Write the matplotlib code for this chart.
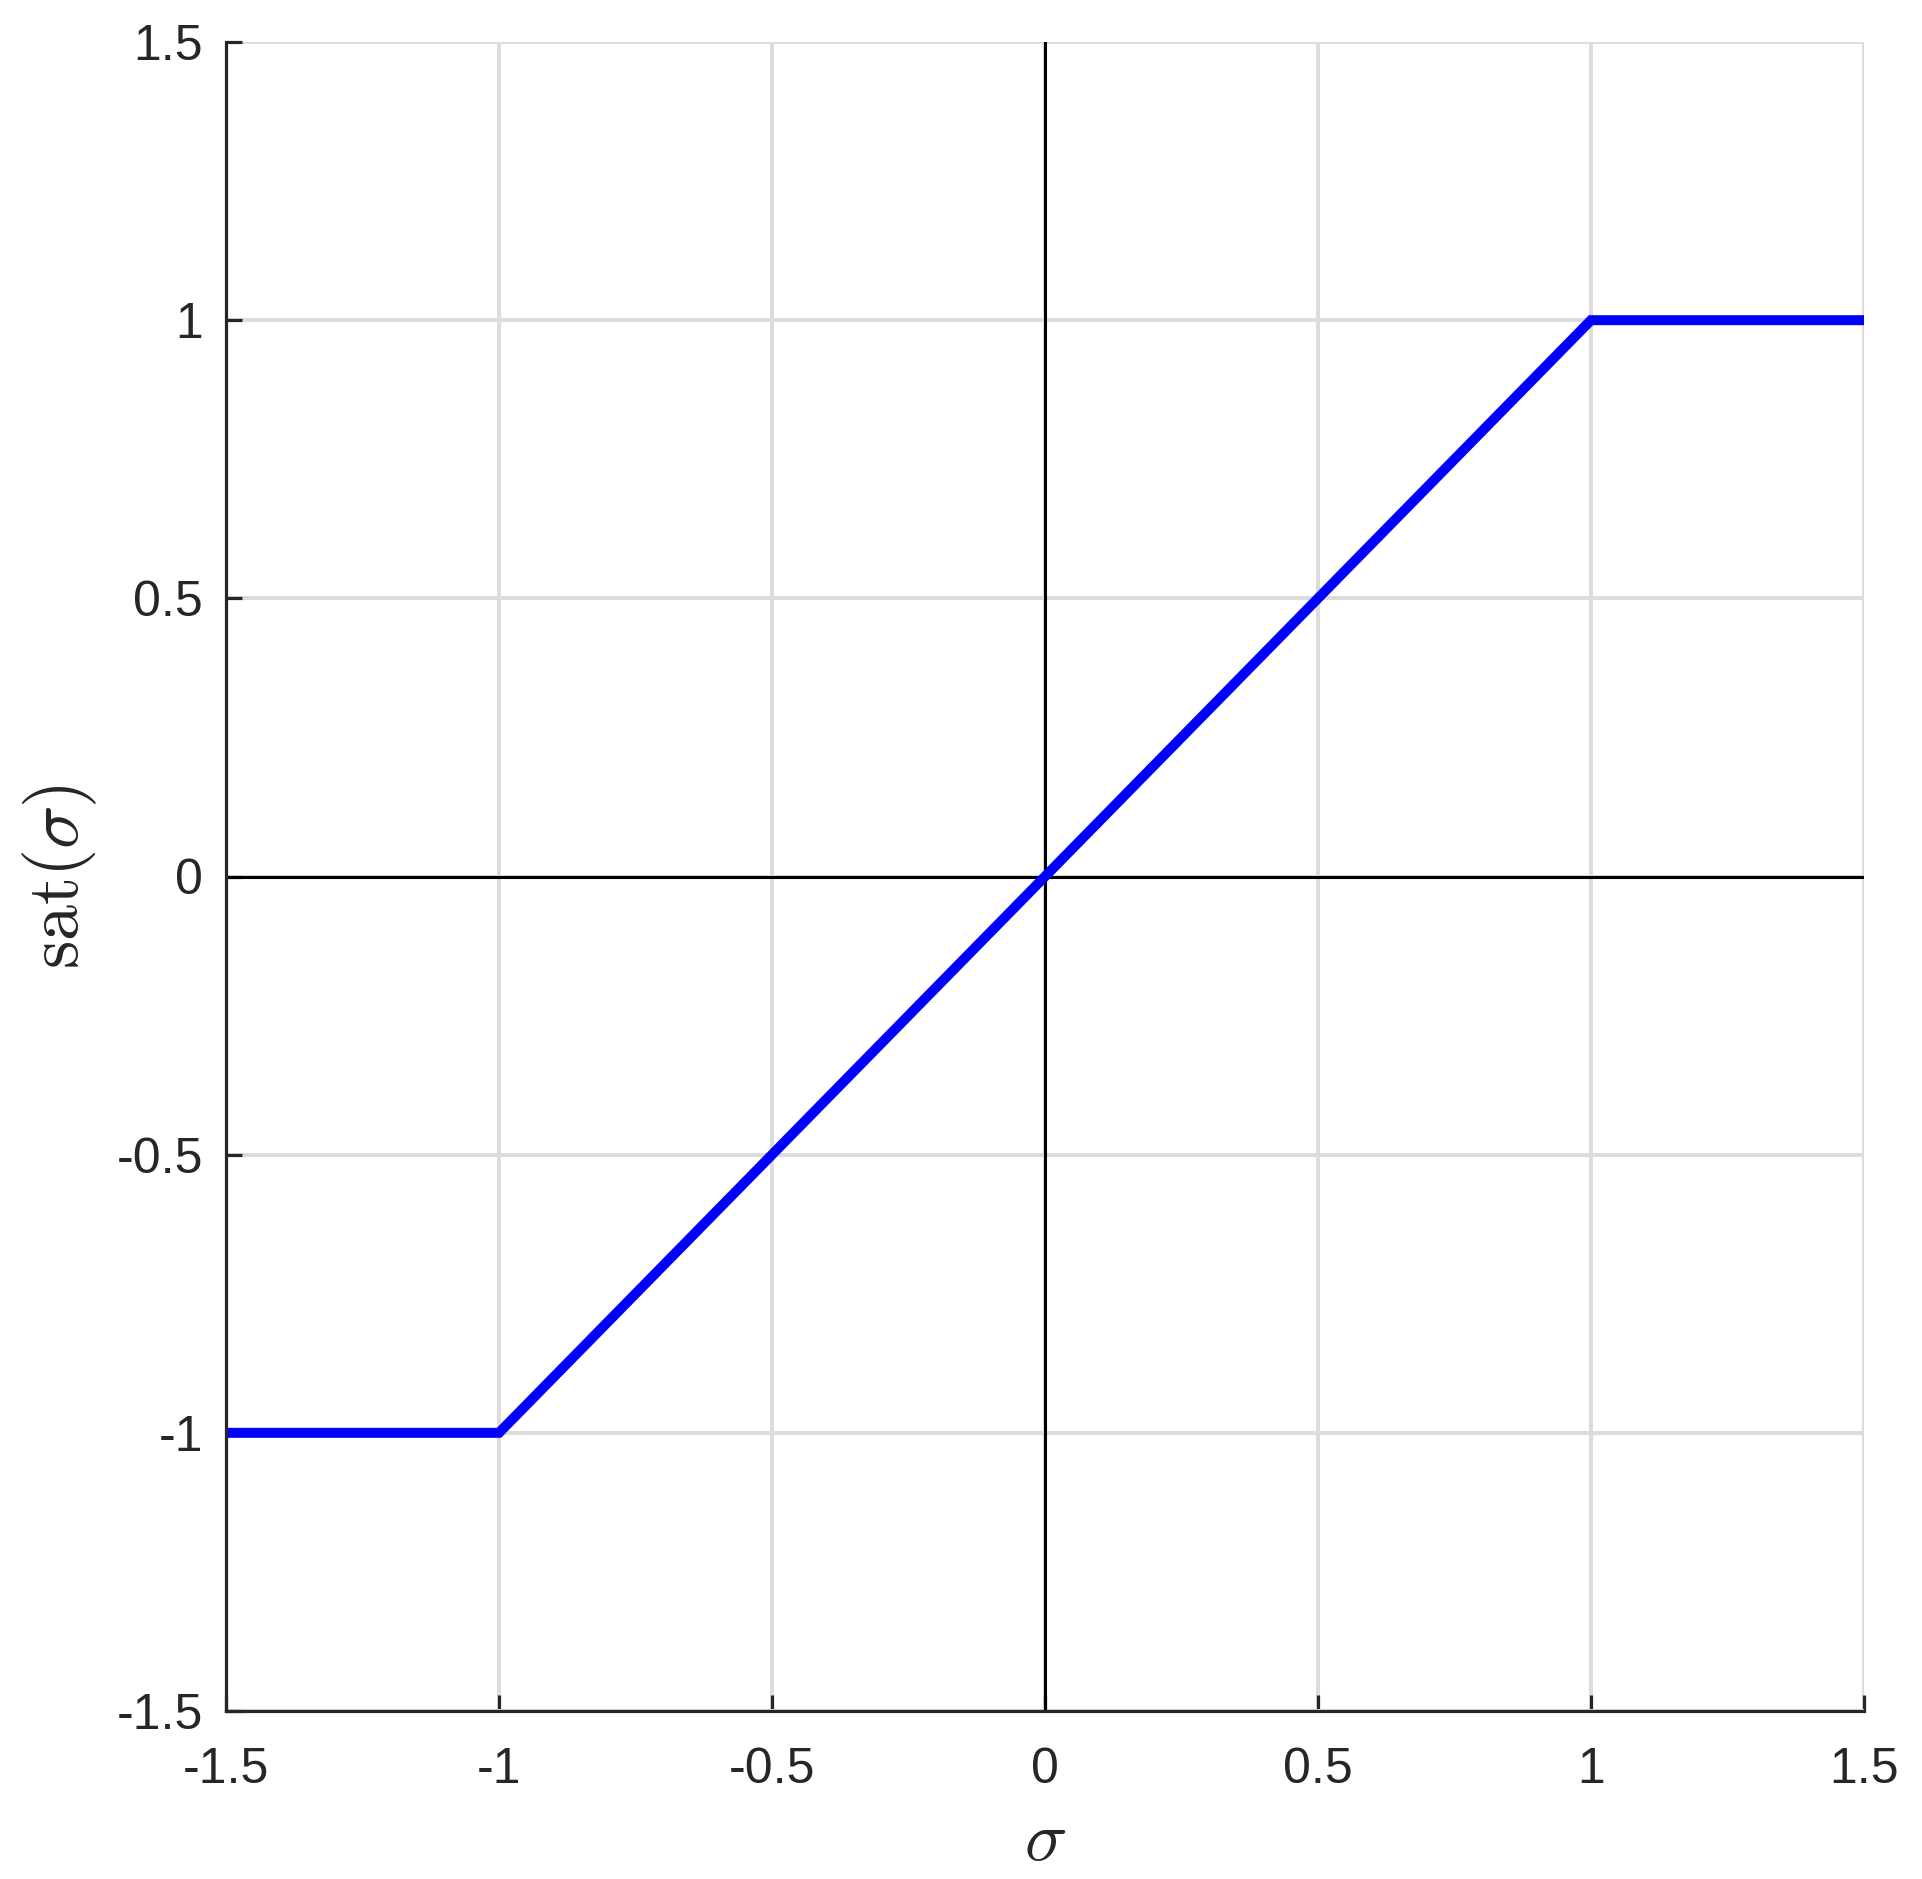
import matplotlib
matplotlib.use("Agg")
import matplotlib.pyplot as plt

sigma = [-1.5, -1.0, 1.0, 1.5]
sat = [-1.0, -1.0, 1.0, 1.0]
xticks = [-1.5, -1, -0.5, 0, 0.5, 1, 1.5]
yticks = [-1.5, -1, -0.5, 0, 0.5, 1, 1.5]
tick_labels = ["-1.5", "-1", "-0.5", "0", "0.5", "1", "1.5"]

plt.rcParams["mathtext.fontset"] = "cm"
plt.rcParams["font.family"] = ["Liberation Sans", "DejaVu Sans"]

W, H = 1922, 1879
L, R, T, B = 226, 1864, 42, 1711

fig = plt.figure(figsize=(W / 100, H / 100), dpi=100)
ax = fig.add_axes([L / W, 1 - B / H, (R - L) / W, (B - T) / H])

ax.set_xlim(-1.5, 1.5)
ax.set_ylim(-1.5, 1.5)
ax.set_xticks(xticks)
ax.set_yticks(yticks)
ax.set_xticklabels(tick_labels)
ax.set_yticklabels(tick_labels)

ax.set_axisbelow(True)
ax.grid(True, color="#dcdcdc", linewidth=2.9)
ax.axhline(0, color="black", linewidth=2.2, zorder=2)
ax.axvline(0, color="black", linewidth=2.2, zorder=2)
ax.plot(sigma, sat, color="#0000ff", linewidth=7.2, zorder=3, solid_joinstyle="miter")

for s in ["top", "right"]:
    ax.spines[s].set_visible(False)
for s in ["left", "bottom"]:
    ax.spines[s].set_color("#262626")
    ax.spines[s].set_linewidth(2.3)
    ax.spines[s].set_zorder(4)

ax.tick_params(direction="in", length=11.5, width=2.3, color="#262626",
               labelsize=36, labelcolor="#262626")
ax.tick_params(axis="x", pad=26)
ax.tick_params(axis="y", pad=16.5)

ax.set_xlabel(r"$\sigma$", fontsize=51, color="#262626")
ax.xaxis.label.set_va("center")
ax.xaxis.set_label_coords(0.5, (B - 1842) / (B - T))

ax.set_ylabel(r"$\mathrm{sat}(\sigma)$", fontsize=52, color="#262626")
ax.yaxis.label.set_va("center")
ax.yaxis.set_label_coords((60 - L) / (R - L), 0.5)

fig.savefig("out.png", dpi=100, facecolor="white")
